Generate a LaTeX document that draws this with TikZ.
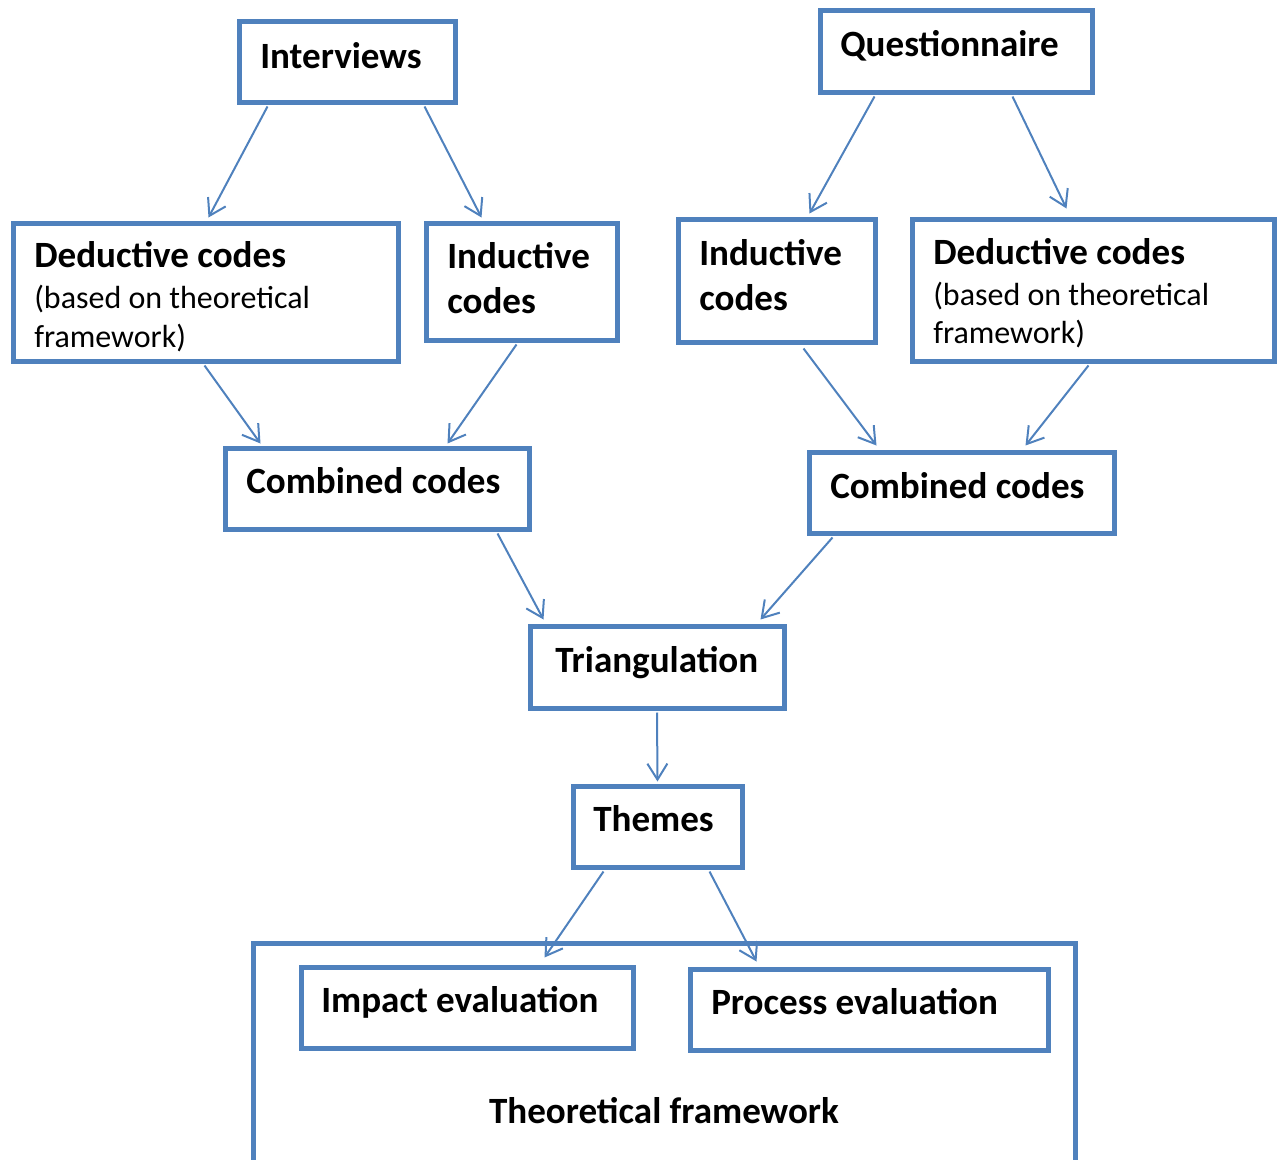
\documentclass[tikz,border=0pt]{standalone}
\usepackage{fontspec}
\setmainfont{Carlito}
\usetikzlibrary{arrows.meta,fit,calc}
\definecolor{boxblue}{RGB}{79,129,189}
\begin{document}
\begin{tikzpicture}[x=0.75pt,y=-0.75pt,
  box/.style={draw=boxblue,line width=3.75pt,inner sep=0pt,fill=none},
  flow/.style={draw=boxblue,line width=1.5pt,
    -{Straight Barb[length=12pt,width=15pt,line width=1.5pt]}},
  head/.style={anchor=base west,inner sep=0pt,font=\bfseries\fontsize{27.8}{33}\selectfont},
  note/.style={anchor=base west,inner sep=0pt,font=\fontsize{24}{29}\selectfont}]

\path[use as bounding box,clip] (0,0) rectangle (1279,1160);

% boxes
\node[box,fit={(239,21) (455,102)}] (int) {};
\node[box,fit={(820,10) (1092,92)}] (que) {};
\node[box,fit={(13,223) (398,361)}] (dedl) {};
\node[box,fit={(426,223) (617,340)}] (indl) {};
\node[box,fit={(678,219) (875,342)}] (indr) {};
\node[box,fit={(912,219) (1274,361)}] (dedr) {};
\node[box,fit={(225,448) (529,529)}] (cmbl) {};
\node[box,fit={(809,452) (1114,533)}] (cmbr) {};
\node[box,fit={(530,626) (784,708)}] (tri) {};
\node[box,fit={(573,786) (742,867)}] (thm) {};
\node[box,fit={(253,943) (1075,1200)}] (frame) {};
\node[box,fit={(301,967) (633,1048)}] (imp) {};
\node[box,fit={(690,969) (1048,1050)}] (pro) {};

% labels
\node[head] (tint) at (260,68) {Interviews};
\node[head] (tque) at (840,56) {Questionnaire};
\node[head] (tdedl) at (34,267) {Deductive codes};
\node[note] (tdedla) at (34,308) {(based on theoretical};
\node[note] (tdedlb) at (34,347) {framework)};
\node[head] (tindl) at (447,268) {Inductive};
\node[head] (tindlb) at (447,313) {codes};
\node[head] (tindr) at (699,265) {Inductive};
\node[head] (tindrb) at (699,310) {codes};
\node[head] (tdedr) at (933,264) {Deductive codes};
\node[note] (tdedra) at (933,305) {(based on theoretical};
\node[note] (tdedrb) at (933,343) {framework)};
\node[head] (tcmbl) at (246,493) {Combined codes};
\node[head] (tcmbr) at (830,498) {Combined codes};
\node[head] (ttri) at (555,672) {Triangulation};
\node[head] (tthm) at (593,831) {Themes};
\node[head] (timp) at (321,1012) {Impact evaluation};
\node[head] (tpro) at (711,1014) {Process evaluation};
\node[head,anchor=base] (tframe) at (664,1123) {Theoretical framework};

% connectors
\draw[flow] ($(int.south west)+(31,2)$) -- ($(dedl.north west)+(198,-3)$);
\draw[flow] ($(int.south west)+(188,2)$) -- ($(indl.north west)+(58,-3)$);
\draw[flow] ($(que.south west)+(57,2)$) -- ($(indr.north west)+(134,-3)$);
\draw[flow] ($(que.south west)+(195,2)$) -- ($(dedr.north west)+(157,-8)$);
\draw[flow] ($(dedl.south west)+(194,2)$) -- ($(cmbl.north west)+(38,-2)$);
\draw[flow] ($(indl.south west)+(93,2)$) -- ($(cmbl.north west)+(225,-2)$);
\draw[flow] ($(indr.south west)+(128,4)$) -- ($(cmbr.north west)+(70,-4)$);
\draw[flow] ($(dedr.south west)+(179,2)$) -- ($(cmbr.north west)+(219,-4)$);
\draw[flow] ($(cmbl.south west)+(275,2)$) -- ($(tri.north west)+(16,-4)$);
\draw[flow] ($(cmbr.south west)+(26,2)$) -- ($(tri.north west)+(233,-4)$);
\draw[flow] ($(tri.south)+(0,2)$) -- ($(thm.north)+(0,-2)$);
\draw[flow] ($(thm.south west)+(33,2)$) -- ($(imp.north west)+(246,-7)$);
\draw[flow] ($(thm.south west)+(139,2)$) -- ($(pro.north west)+(69,-5)$);
\end{tikzpicture}
\end{document}
